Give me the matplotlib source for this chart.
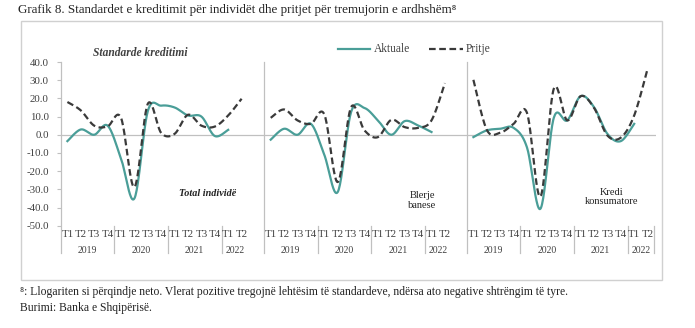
import numpy as np
import matplotlib
matplotlib.use('Agg')
import matplotlib.pyplot as plt
from matplotlib.patches import Rectangle
from matplotlib.lines import Line2D
import matplotlib.transforms as mtrans

plt.rcParams['font.family'] = ['Liberation Serif', 'DejaVu Serif']

kuartalet = ['T1', 'T2', 'T3', 'T4'] * 3 + ['T1', 'T2']
vitet = ['2019', '2020', '2021', '2022']

# Total individe
tot_akt = [-3.5, 2.9, 0.0, 5.0, -13.0, -35.0, 13.0, 16.0, 15.0, 10.6, 10.0, -0.7, 2.7]
tot_pri = [18.0, 13.4, 5.0, 4.6, 9.3, -28.8, 17.0, 1.0, 0.5, 11.0, 5.0, 4.5, 10.6, 19.8]
# Blerje banese
ban_akt = [-2.7, 3.3, 0.0, 6.0, -11.0, -31.5, 12.5, 14.7, 7.9, 0.0, 7.5, 5.1, 1.5]
ban_pri = [9.3, 13.9, 7.9, 6.0, 11.2, -26.0, 15.2, 2.4, -1.3, 8.2, 4.2, 3.8, 7.9, 28.4]
# Kredi konsumatore
kon_akt = [-1.3, 2.4, 3.3, 3.8, -7.0, -40.7, 9.3, 7.9, 21.2, 15.2, 0.5, -3.5, 6.0]
kon_pri = [30.2, 2.7, 1.1, 6.0, 12.0, -34.0, 25.3, 7.9, 21.2, 14.8, -0.4, -1.6, 10.6, 36.3]

TEAL = '#4a9e98'
DARK = '#3a3a3a'
GRAY = '#c0c0c0'
TXT = '#404040'


def smooth(y, n=24):
    # lakimi si ne Excel (Catmull-Rom)
    y = np.asarray(y, float)
    x = np.arange(len(y), dtype=float)
    px = np.concatenate([[x[0]], x, [x[-1]]])
    py = np.concatenate([[y[0]], y, [y[-1]]])
    xs, ys = [], []
    for i in range(1, len(px) - 2):
        t = np.linspace(0, 1, n, endpoint=False)
        for p, out in ((px, xs), (py, ys)):
            p0, p1, p2, p3 = p[i - 1], p[i], p[i + 1], p[i + 2]
            c1 = p1 + (p2 - p0) / 6
            c2 = p2 - (p3 - p1) / 6
            out.extend((1 - t) ** 3 * p1 + 3 * (1 - t) ** 2 * t * c1
                       + 3 * (1 - t) * t ** 2 * c2 + t ** 3 * p2)
    xs.append(x[-1]); ys.append(y[-1])
    return np.array(xs), np.array(ys)


W, H = 695, 328
fig = plt.figure(figsize=(W / 100, H / 100), dpi=100)

fig.patches.append(Rectangle((21 / W, 1 - 280 / H), (662 - 21) / W, (280 - 21) / H,
                             transform=fig.transFigure, fill=False,
                             edgecolor='#d0d0d0', lw=1))

y_top, y_bot = 62, 225.7
cat = 13.4
panels = [
    (60.7, 264.0, tot_akt, tot_pri, True),
    (264.0, 466.7, ban_akt, ban_pri, False),
    (466.7, 655.7, kon_akt, kon_pri, False),
]

for k, (x0, x1, akt, pri, first) in enumerate(panels):
    ax = fig.add_axes([x0 / W, 1 - y_bot / H, (x1 - x0) / W, (y_bot - y_top) / H])
    ax.set_xlim(-0.5, -0.5 + (x1 - x0) / cat)
    ax.set_ylim(-50, 40)
    ax.patch.set_alpha(0)
    for s in ax.spines.values():
        s.set_visible(False)
    ax.axhline(0, color=GRAY, lw=0.9, zorder=1)

    sx, sy = smooth(pri)
    ax.plot(sx, sy, color=DARK, lw=1.6, ls=(0, (3, 1.6)), zorder=3)
    sx, sy = smooth(akt)
    ax.plot(sx, sy, color=TEAL, lw=1.6, zorder=2)

    tr = mtrans.blended_transform_factory(ax.transData, ax.transAxes)
    ax.add_line(Line2D([-0.5, -0.5], [-0.167, 1.0], transform=tr, color=GRAY,
                       lw=0.9, clip_on=False))
    seps = [3.5, 7.5, 11.5] + ([13.5] if k == 2 else [])
    for xs_ in seps:
        ax.add_line(Line2D([xs_, xs_], [-0.167, 0.0], transform=tr, color=GRAY,
                           lw=0.9, clip_on=False))
    for i, q in enumerate(kuartalet):
        ax.text(i, -0.051, q, transform=tr, ha='center', va='center',
                fontsize=7.8, color=TXT)
    for j, v in enumerate(vitet):
        cx = 1.5 + 4 * j if j < 3 else 12.5
        ax.text(cx, -0.153, v, transform=tr, ha='center', va='center',
                fontsize=7, color=TXT)

    ax.set_xticks([])
    if first:
        ax.set_yticks(np.arange(-50, 41, 10))
        ax.set_yticklabels(['%.1f' % v for v in np.arange(-50, 41, 10)],
                           fontsize=7.8, color=TXT)
        ax.tick_params(axis='y', length=3, width=0.8, color=GRAY, pad=5.5)
    else:
        ax.set_yticks([])

fig.text(18 / W, 1 - 10 / H,
         'Grafik 8. Standardet e kreditimit për individët dhe pritjet për tremujorin e ardhshëm⁸',
         fontsize=9.4, va='center', ha='left', color='#222222')
fig.text(140 / W, 1 - 53 / H, 'Standarde kreditimi', fontsize=8.3,
         style='italic', weight='bold', ha='center', va='center', color=TXT)
fig.text(208 / W, 1 - 193 / H, 'Total individë', fontsize=7.3,
         style='italic', weight='bold', ha='center', va='center', color='#222222')
fig.text(422 / W, 1 - 200.5 / H, 'Blerje\nbanese', fontsize=7.5, linespacing=1.0,
         ha='center', va='center', color='#222222')
fig.text(612 / W, 1 - 197 / H, 'Kredi\nkonsumatore', fontsize=7.5, linespacing=1.0,
         ha='center', va='center', color='#222222')

# legjenda
fig.lines.append(Line2D([338 / W, 370 / W], [1 - 49 / H] * 2, transform=fig.transFigure,
                        color=TEAL, lw=1.6))
fig.text(374 / W, 1 - 49 / H, 'Aktuale', fontsize=8.3, va='center', color=TXT)
fig.lines.append(Line2D([429 / W, 463 / W], [1 - 49 / H] * 2, transform=fig.transFigure,
                        color=DARK, lw=1.6, ls=(0, (3, 1.6))))
fig.text(466 / W, 1 - 49 / H, 'Pritje', fontsize=8.3, va='center', color=TXT)

fig.text(20 / W, 1 - 292 / H,
         '⁸: Llogariten si përqindje neto. Vlerat pozitive tregojnë lehtësim të standardeve, '
         'ndërsa ato negative shtrëngim të tyre.',
         fontsize=8.4, va='center', color='#222222')
fig.text(20 / W, 1 - 308 / H, 'Burimi: Banka e Shqipërisë.', fontsize=8.4,
         va='center', color='#222222')

fig.savefig('out.png', dpi=100)
